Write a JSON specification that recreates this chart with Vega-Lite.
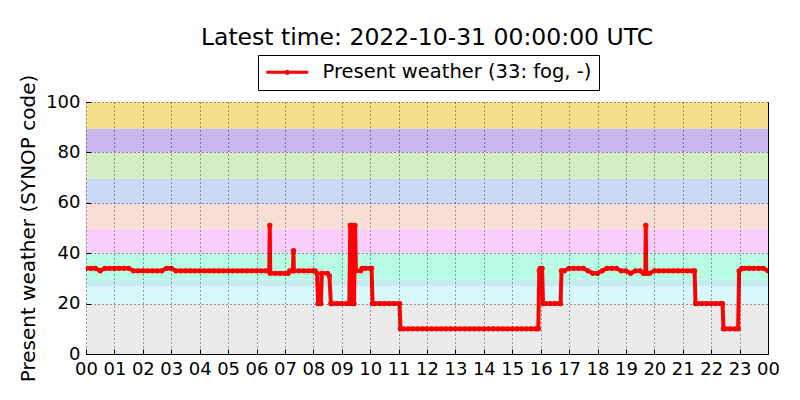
{
  "$schema": "https://vega.github.io/schema/vega-lite/v6.json",
  "width": 682,
  "height": 252,
  "autosize": "none",
  "padding": {"left": 86, "top": 102, "right": 32, "bottom": 46},
  "background": "white",
  "title": {"text": "Latest time: 2022-10-31 00:00:00 UTC", "fontSize": 23.5, "font": "DejaVu Sans", "fontWeight": "normal", "color": "black", "anchor": "middle", "offset": 5},
  "config": {
    "view": {"stroke": "black", "strokeWidth": 1},
    "axis": {"labelFont": "DejaVu Sans", "labelFontSize": 18, "labelColor": "black", "titleFont": "DejaVu Sans", "titleFontSize": 20, "titleFontWeight": "normal", "titleColor": "black", "grid": true, "gridColor": "black", "gridDash": [1, 3], "gridWidth": 0.8, "gridOpacity": 0.9, "domain": false, "tickColor": "black", "tickSize": -5, "labelPadding": 11}
  },
  "layer": [
    {
      "data": {"values": [
        {"lo": 0, "hi": 20, "band": "00-19"},
        {"lo": 20, "hi": 27, "band": "20-26"},
        {"lo": 27, "hi": 29.5, "band": "27-29"},
        {"lo": 29.5, "hi": 40, "band": "30-39"},
        {"lo": 40, "hi": 49.5, "band": "40-49"},
        {"lo": 49.5, "hi": 59.5, "band": "50-59"},
        {"lo": 59.5, "hi": 69.5, "band": "60-69"},
        {"lo": 69.5, "hi": 80, "band": "70-79"},
        {"lo": 80, "hi": 89.5, "band": "80-89"},
        {"lo": 89.5, "hi": 100, "band": "90-99"}
      ]},
      "mark": {"type": "rect"},
      "encoding": {
        "y": {"field": "lo", "type": "quantitative", "scale": {"domain": [0, 100], "nice": false}, "axis": {"title": "Present weather (SYNOP code)", "values": [0, 20, 40, 60, 80, 100], "titlePadding": 7, "zindex": 1}},
        "y2": {"field": "hi"},
        "color": {"field": "band", "type": "nominal", "legend": null, "scale": {"domain": ["00-19", "20-26", "27-29", "30-39", "40-49", "50-59", "60-69", "70-79", "80-89", "90-99"], "range": ["#ebebeb", "#d8f8fc", "#c4ecf0", "#b8fde3", "#facdfb", "#f8dfd6", "#c9d8f5", "#d4edc4", "#c9b8ee", "#f6df8b"]}}
      }
    },
    {
      "data": {"values": [
        {"time": "2022-10-30T00:00:00Z", "ww": 34},
        {"time": "2022-10-30T00:10:00Z", "ww": 34},
        {"time": "2022-10-30T00:20:00Z", "ww": 34},
        {"time": "2022-10-30T00:30:00Z", "ww": 33},
        {"time": "2022-10-30T00:40:00Z", "ww": 34},
        {"time": "2022-10-30T00:50:00Z", "ww": 34},
        {"time": "2022-10-30T01:00:00Z", "ww": 34},
        {"time": "2022-10-30T01:10:00Z", "ww": 34},
        {"time": "2022-10-30T01:20:00Z", "ww": 34},
        {"time": "2022-10-30T01:30:00Z", "ww": 34},
        {"time": "2022-10-30T01:40:00Z", "ww": 33},
        {"time": "2022-10-30T01:50:00Z", "ww": 33},
        {"time": "2022-10-30T02:00:00Z", "ww": 33},
        {"time": "2022-10-30T02:10:00Z", "ww": 33},
        {"time": "2022-10-30T02:20:00Z", "ww": 33},
        {"time": "2022-10-30T02:30:00Z", "ww": 33},
        {"time": "2022-10-30T02:40:00Z", "ww": 33},
        {"time": "2022-10-30T02:50:00Z", "ww": 34},
        {"time": "2022-10-30T03:00:00Z", "ww": 34},
        {"time": "2022-10-30T03:10:00Z", "ww": 33},
        {"time": "2022-10-30T03:20:00Z", "ww": 33},
        {"time": "2022-10-30T03:30:00Z", "ww": 33},
        {"time": "2022-10-30T03:40:00Z", "ww": 33},
        {"time": "2022-10-30T03:50:00Z", "ww": 33},
        {"time": "2022-10-30T04:00:00Z", "ww": 33},
        {"time": "2022-10-30T04:10:00Z", "ww": 33},
        {"time": "2022-10-30T04:20:00Z", "ww": 33},
        {"time": "2022-10-30T04:30:00Z", "ww": 33},
        {"time": "2022-10-30T04:40:00Z", "ww": 33},
        {"time": "2022-10-30T04:50:00Z", "ww": 33},
        {"time": "2022-10-30T05:00:00Z", "ww": 33},
        {"time": "2022-10-30T05:10:00Z", "ww": 33},
        {"time": "2022-10-30T05:20:00Z", "ww": 33},
        {"time": "2022-10-30T05:30:00Z", "ww": 33},
        {"time": "2022-10-30T05:40:00Z", "ww": 33},
        {"time": "2022-10-30T05:50:00Z", "ww": 33},
        {"time": "2022-10-30T06:00:00Z", "ww": 33},
        {"time": "2022-10-30T06:10:00Z", "ww": 33},
        {"time": "2022-10-30T06:20:00Z", "ww": 33},
        {"time": "2022-10-30T06:27:00Z", "ww": 33},
        {"time": "2022-10-30T06:28:00Z", "ww": 51},
        {"time": "2022-10-30T06:29:00Z", "ww": 32},
        {"time": "2022-10-30T06:40:00Z", "ww": 32},
        {"time": "2022-10-30T06:50:00Z", "ww": 32},
        {"time": "2022-10-30T07:00:00Z", "ww": 32},
        {"time": "2022-10-30T07:07:00Z", "ww": 32},
        {"time": "2022-10-30T07:10:00Z", "ww": 33},
        {"time": "2022-10-30T07:17:00Z", "ww": 33},
        {"time": "2022-10-30T07:18:00Z", "ww": 41},
        {"time": "2022-10-30T07:19:00Z", "ww": 33},
        {"time": "2022-10-30T07:30:00Z", "ww": 33},
        {"time": "2022-10-30T07:40:00Z", "ww": 33},
        {"time": "2022-10-30T07:50:00Z", "ww": 33},
        {"time": "2022-10-30T08:00:00Z", "ww": 33},
        {"time": "2022-10-30T08:04:00Z", "ww": 33},
        {"time": "2022-10-30T08:08:00Z", "ww": 32},
        {"time": "2022-10-30T08:10:00Z", "ww": 20},
        {"time": "2022-10-30T08:16:00Z", "ww": 20},
        {"time": "2022-10-30T08:18:00Z", "ww": 32},
        {"time": "2022-10-30T08:30:00Z", "ww": 32},
        {"time": "2022-10-30T08:34:00Z", "ww": 31},
        {"time": "2022-10-30T08:37:00Z", "ww": 20},
        {"time": "2022-10-30T08:40:00Z", "ww": 20},
        {"time": "2022-10-30T08:50:00Z", "ww": 20},
        {"time": "2022-10-30T09:00:00Z", "ww": 20},
        {"time": "2022-10-30T09:10:00Z", "ww": 20},
        {"time": "2022-10-30T09:16:00Z", "ww": 20},
        {"time": "2022-10-30T09:18:00Z", "ww": 51},
        {"time": "2022-10-30T09:21:00Z", "ww": 51},
        {"time": "2022-10-30T09:23:00Z", "ww": 20},
        {"time": "2022-10-30T09:26:00Z", "ww": 20},
        {"time": "2022-10-30T09:28:00Z", "ww": 51},
        {"time": "2022-10-30T09:30:00Z", "ww": 33},
        {"time": "2022-10-30T09:40:00Z", "ww": 33},
        {"time": "2022-10-30T09:43:00Z", "ww": 34},
        {"time": "2022-10-30T09:50:00Z", "ww": 34},
        {"time": "2022-10-30T10:00:00Z", "ww": 34},
        {"time": "2022-10-30T10:03:00Z", "ww": 34},
        {"time": "2022-10-30T10:05:00Z", "ww": 20},
        {"time": "2022-10-30T10:10:00Z", "ww": 20},
        {"time": "2022-10-30T10:20:00Z", "ww": 20},
        {"time": "2022-10-30T10:30:00Z", "ww": 20},
        {"time": "2022-10-30T10:40:00Z", "ww": 20},
        {"time": "2022-10-30T10:50:00Z", "ww": 20},
        {"time": "2022-10-30T11:00:00Z", "ww": 20},
        {"time": "2022-10-30T11:02:00Z", "ww": 20},
        {"time": "2022-10-30T11:04:00Z", "ww": 10},
        {"time": "2022-10-30T11:10:00Z", "ww": 10},
        {"time": "2022-10-30T11:20:00Z", "ww": 10},
        {"time": "2022-10-30T11:30:00Z", "ww": 10},
        {"time": "2022-10-30T11:40:00Z", "ww": 10},
        {"time": "2022-10-30T11:50:00Z", "ww": 10},
        {"time": "2022-10-30T12:00:00Z", "ww": 10},
        {"time": "2022-10-30T12:10:00Z", "ww": 10},
        {"time": "2022-10-30T12:20:00Z", "ww": 10},
        {"time": "2022-10-30T12:30:00Z", "ww": 10},
        {"time": "2022-10-30T12:40:00Z", "ww": 10},
        {"time": "2022-10-30T12:50:00Z", "ww": 10},
        {"time": "2022-10-30T13:00:00Z", "ww": 10},
        {"time": "2022-10-30T13:10:00Z", "ww": 10},
        {"time": "2022-10-30T13:20:00Z", "ww": 10},
        {"time": "2022-10-30T13:30:00Z", "ww": 10},
        {"time": "2022-10-30T13:40:00Z", "ww": 10},
        {"time": "2022-10-30T13:50:00Z", "ww": 10},
        {"time": "2022-10-30T14:00:00Z", "ww": 10},
        {"time": "2022-10-30T14:10:00Z", "ww": 10},
        {"time": "2022-10-30T14:20:00Z", "ww": 10},
        {"time": "2022-10-30T14:30:00Z", "ww": 10},
        {"time": "2022-10-30T14:40:00Z", "ww": 10},
        {"time": "2022-10-30T14:50:00Z", "ww": 10},
        {"time": "2022-10-30T15:00:00Z", "ww": 10},
        {"time": "2022-10-30T15:10:00Z", "ww": 10},
        {"time": "2022-10-30T15:20:00Z", "ww": 10},
        {"time": "2022-10-30T15:30:00Z", "ww": 10},
        {"time": "2022-10-30T15:40:00Z", "ww": 10},
        {"time": "2022-10-30T15:50:00Z", "ww": 10},
        {"time": "2022-10-30T15:55:00Z", "ww": 10},
        {"time": "2022-10-30T15:57:00Z", "ww": 33},
        {"time": "2022-10-30T15:59:00Z", "ww": 34},
        {"time": "2022-10-30T16:03:00Z", "ww": 34},
        {"time": "2022-10-30T16:05:00Z", "ww": 20},
        {"time": "2022-10-30T16:10:00Z", "ww": 20},
        {"time": "2022-10-30T16:20:00Z", "ww": 20},
        {"time": "2022-10-30T16:30:00Z", "ww": 20},
        {"time": "2022-10-30T16:40:00Z", "ww": 20},
        {"time": "2022-10-30T16:42:00Z", "ww": 20},
        {"time": "2022-10-30T16:44:00Z", "ww": 33},
        {"time": "2022-10-30T16:50:00Z", "ww": 33},
        {"time": "2022-10-30T17:00:00Z", "ww": 34},
        {"time": "2022-10-30T17:10:00Z", "ww": 34},
        {"time": "2022-10-30T17:20:00Z", "ww": 34},
        {"time": "2022-10-30T17:30:00Z", "ww": 34},
        {"time": "2022-10-30T17:40:00Z", "ww": 33},
        {"time": "2022-10-30T17:50:00Z", "ww": 32},
        {"time": "2022-10-30T18:00:00Z", "ww": 32},
        {"time": "2022-10-30T18:10:00Z", "ww": 33},
        {"time": "2022-10-30T18:20:00Z", "ww": 34},
        {"time": "2022-10-30T18:30:00Z", "ww": 34},
        {"time": "2022-10-30T18:40:00Z", "ww": 34},
        {"time": "2022-10-30T18:50:00Z", "ww": 33},
        {"time": "2022-10-30T19:00:00Z", "ww": 33},
        {"time": "2022-10-30T19:10:00Z", "ww": 32},
        {"time": "2022-10-30T19:20:00Z", "ww": 33},
        {"time": "2022-10-30T19:30:00Z", "ww": 33},
        {"time": "2022-10-30T19:37:00Z", "ww": 32},
        {"time": "2022-10-30T19:41:00Z", "ww": 32},
        {"time": "2022-10-30T19:42:00Z", "ww": 51},
        {"time": "2022-10-30T19:43:00Z", "ww": 32},
        {"time": "2022-10-30T19:50:00Z", "ww": 32},
        {"time": "2022-10-30T20:00:00Z", "ww": 33},
        {"time": "2022-10-30T20:10:00Z", "ww": 33},
        {"time": "2022-10-30T20:20:00Z", "ww": 33},
        {"time": "2022-10-30T20:30:00Z", "ww": 33},
        {"time": "2022-10-30T20:40:00Z", "ww": 33},
        {"time": "2022-10-30T20:50:00Z", "ww": 33},
        {"time": "2022-10-30T21:00:00Z", "ww": 33},
        {"time": "2022-10-30T21:10:00Z", "ww": 33},
        {"time": "2022-10-30T21:20:00Z", "ww": 33},
        {"time": "2022-10-30T21:25:00Z", "ww": 33},
        {"time": "2022-10-30T21:27:00Z", "ww": 20},
        {"time": "2022-10-30T21:30:00Z", "ww": 20},
        {"time": "2022-10-30T21:40:00Z", "ww": 20},
        {"time": "2022-10-30T21:50:00Z", "ww": 20},
        {"time": "2022-10-30T22:00:00Z", "ww": 20},
        {"time": "2022-10-30T22:10:00Z", "ww": 20},
        {"time": "2022-10-30T22:20:00Z", "ww": 20},
        {"time": "2022-10-30T22:24:00Z", "ww": 20},
        {"time": "2022-10-30T22:26:00Z", "ww": 10},
        {"time": "2022-10-30T22:30:00Z", "ww": 10},
        {"time": "2022-10-30T22:40:00Z", "ww": 10},
        {"time": "2022-10-30T22:50:00Z", "ww": 10},
        {"time": "2022-10-30T22:57:00Z", "ww": 10},
        {"time": "2022-10-30T22:59:00Z", "ww": 33},
        {"time": "2022-10-30T23:05:00Z", "ww": 34},
        {"time": "2022-10-30T23:10:00Z", "ww": 34},
        {"time": "2022-10-30T23:20:00Z", "ww": 34},
        {"time": "2022-10-30T23:30:00Z", "ww": 34},
        {"time": "2022-10-30T23:40:00Z", "ww": 34},
        {"time": "2022-10-30T23:50:00Z", "ww": 34},
        {"time": "2022-10-31T00:00:00Z", "ww": 33}
      ]},
      "mark": {"type": "line", "strokeWidth": 4, "clip": true, "point": {"filled": true, "size": 28, "color": "red"}},
      "encoding": {
        "x": {"field": "time", "type": "temporal", "scale": {"type": "utc", "domain": [{"year": 2022, "month": 10, "date": 30, "hours": 0, "utc": true}, {"year": 2022, "month": 10, "date": 31, "hours": 0, "utc": true}]}, "axis": {"title": null, "format": "%H", "tickCount": 24, "labelOverlap": false, "labelFlush": false, "labelPadding": 11, "zindex": 1}},
        "y": {"field": "ww", "type": "quantitative"},
        "color": {"datum": "Present weather (33: fog, -)", "type": "nominal", "scale": {"range": ["red"]}, "legend": {"title": null, "orient": "none", "legendX": 172, "legendY": -47, "strokeColor": "black", "fillColor": "white", "cornerRadius": 0, "padding": 7.5, "labelFont": "DejaVu Sans", "labelFontSize": 19.5, "labelColor": "black", "labelOffset": 25.5, "labelLimit": 500, "symbolOffset": 12, "symbolType": "M-3,0L3,0M-0.15,0A0.15,0.15 0 1,0 0.15,0A0.15,0.15 0 1,0 -0.15,0", "symbolSize": 196, "symbolStrokeWidth": 3, "symbolStrokeColor": "red", "symbolFillColor": "red"}}
      }
    }
  ],
  "resolve": {"scale": {"color": "independent"}}
}
